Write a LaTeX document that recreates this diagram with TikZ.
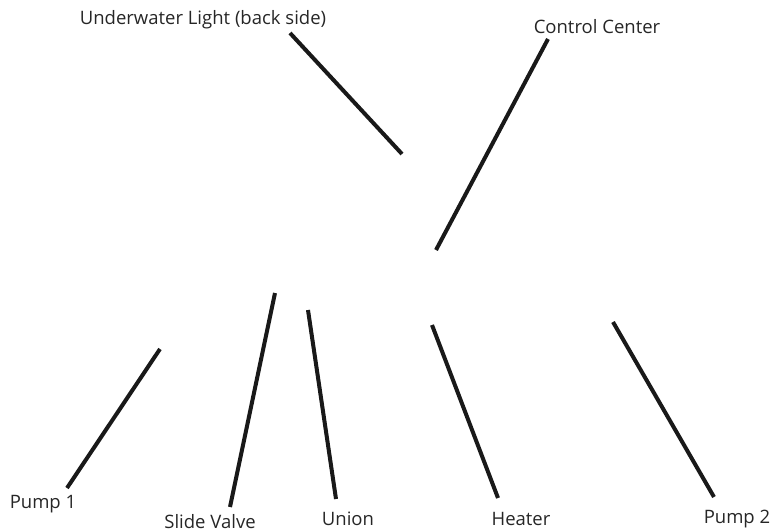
\documentclass[tikz,border=0pt]{standalone}
\usepackage{fontspec}
\setmainfont{Open Sans}
\begin{document}
\begin{tikzpicture}[x=1pt,y=-1pt,
  lbl/.style={inner sep=0pt,font=\fontsize{18.5}{22}\selectfont,text=black!85},
  leader/.style={line width=4pt,black!90}]
\useasboundingbox (0,0) rectangle (774,532);
\node[lbl] (uw) at (203,20) {Underwater Light (back side)};
\node[lbl] (cc) at (597,27) {Control Center};
\node[lbl] (p1) at (43,504) {Pump 1};
\node[lbl] (sv) at (210,522) {Slide Valve};
\node[lbl] (un) at (348,519) {Union};
\node[lbl] (ht) at (521,519) {Heater};
\node[lbl] (p2) at (737,519) {Pump 2};
\coordinate (uwA) at (290,33);  \coordinate (uwB) at (402,154);
\coordinate (ccA) at (548,39);  \coordinate (ccB) at (436,250);
\coordinate (p1A) at (160,349); \coordinate (p1B) at (67,488);
\coordinate (svA) at (275,293); \coordinate (svB) at (230,507);
\coordinate (unA) at (308,310); \coordinate (unB) at (336,499);
\coordinate (htA) at (432,325); \coordinate (htB) at (498,498);
\coordinate (p2A) at (613,322); \coordinate (p2B) at (714,497);
\draw[leader] (uwA) -- (uwB);
\draw[leader] (ccA) -- (ccB);
\draw[leader] (p1A) -- (p1B);
\draw[leader] (svA) -- (svB);
\draw[leader] (unA) -- (unB);
\draw[leader] (htA) -- (htB);
\draw[leader] (p2A) -- (p2B);
\end{tikzpicture}
\end{document}
